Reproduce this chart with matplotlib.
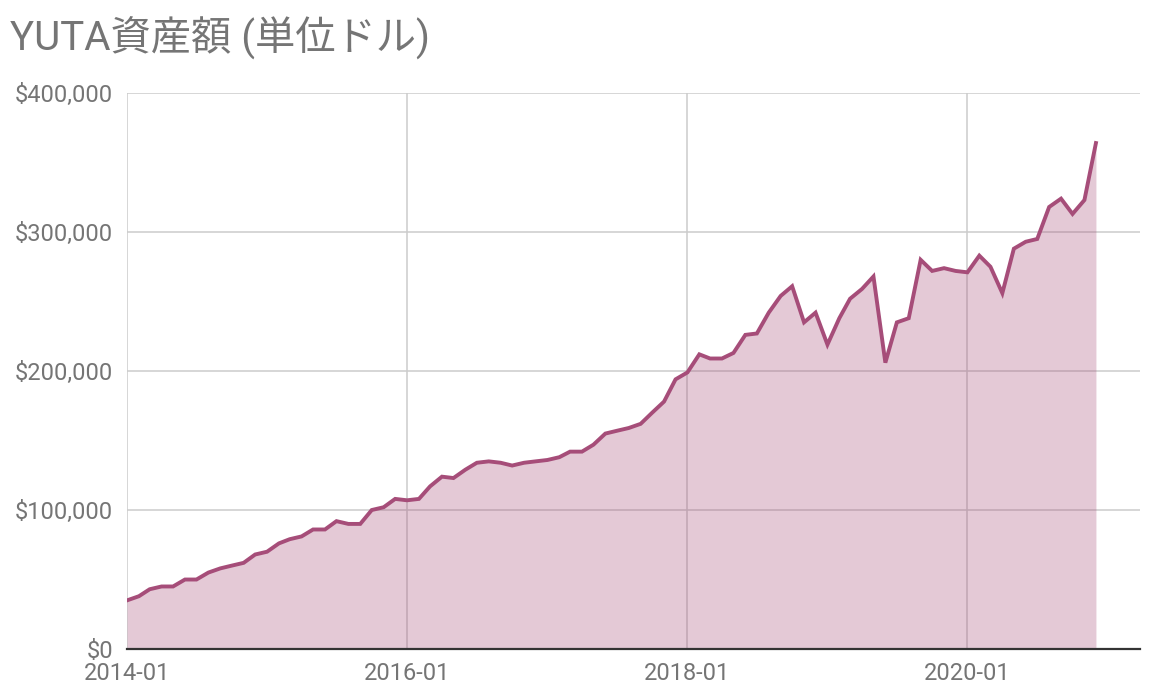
import numpy as np
import pandas as pd
import matplotlib
matplotlib.use("Agg")
import matplotlib.pyplot as plt
import matplotlib.dates as mdates
from matplotlib.ticker import FuncFormatter

# =========================
# DATA (monthly, 2014-01 .. 2020-12, in thousands of dollars)
# =========================
months = pd.date_range("2014-01-01", "2020-12-01", freq="MS")

assets_k = [
    # 2014
    35, 38, 43, 45, 45, 50, 50, 55, 58, 60, 62, 68,
    # 2015
    70, 76, 79, 81, 86, 86, 92, 90, 90, 100, 102, 108,
    # 2016
    107, 108, 117, 124, 123, 129, 134, 135, 134, 132, 134, 135,
    # 2017
    136, 138, 142, 142, 147, 155, 157, 159, 162, 170, 178, 194,
    # 2018
    199, 212, 209, 209, 213, 226, 227, 242, 254, 261, 235, 242,
    # 2019
    219, 238, 252, 259, 268, 206, 235, 238, 280, 272, 274, 272,
    # 2020
    271, 283, 275, 256, 288, 293, 295, 318, 324, 313, 323, 364,
]
assets = np.array(assets_k, dtype=float) * 1000

y_ticks = [0, 100000, 200000, 300000, 400000]
x_ticks = ["2014-01-01", "2016-01-01", "2018-01-01", "2020-01-01"]

title = "YUTA資産額 (単位ドル)"

# =========================
# STYLE
# =========================
LINE_COLOR = "#a64d79"
GRID_COLOR = "#cccccc"
TEXT_COLOR = "#757575"
FONTS = ["Roboto", "Noto Sans CJK JP", "DejaVu Sans"]
plt.rcParams["font.family"] = FONTS

fig = plt.figure(figsize=(11.56, 6.92), dpi=100)
ax = fig.add_axes([0.1099, 0.0621, 0.8763, 0.8035])

ax.fill_between(months, 0, assets, color=LINE_COLOR, alpha=0.3, linewidth=0, zorder=2)
ax.plot(months, assets, color=LINE_COLOR, linewidth=2.8, solid_joinstyle="miter", zorder=3)

ax.set_ylim(0, 400000)
ax.set_xlim(pd.Timestamp("2014-01-01"), pd.Timestamp("2021-03-26"))

ax.set_yticks(y_ticks)
ax.yaxis.set_major_formatter(FuncFormatter(lambda v, p: f"${v:,.0f}"))
ax.set_xticks([pd.Timestamp(t) for t in x_ticks])
ax.xaxis.set_major_formatter(mdates.DateFormatter("%Y-%m"))

ax.grid(True, color=GRID_COLOR, linewidth=1.1, zorder=1)
ax.set_axisbelow(True)

for s in ["top", "right", "left"]:
    ax.spines[s].set_visible(False)
ax.spines["bottom"].set_color("#333333")
ax.spines["bottom"].set_linewidth(1.6)
ax.spines["bottom"].set_zorder(4)

ax.tick_params(axis="both", length=0, labelsize=17, labelcolor=TEXT_COLOR)
ax.tick_params(axis="y", pad=10)
ax.tick_params(axis="x", pad=9)

fig.text(0.009, 0.945, title, fontsize=29, color=TEXT_COLOR,
         ha="left", va="center", family=FONTS)

fig.savefig("out.png", dpi=100)
